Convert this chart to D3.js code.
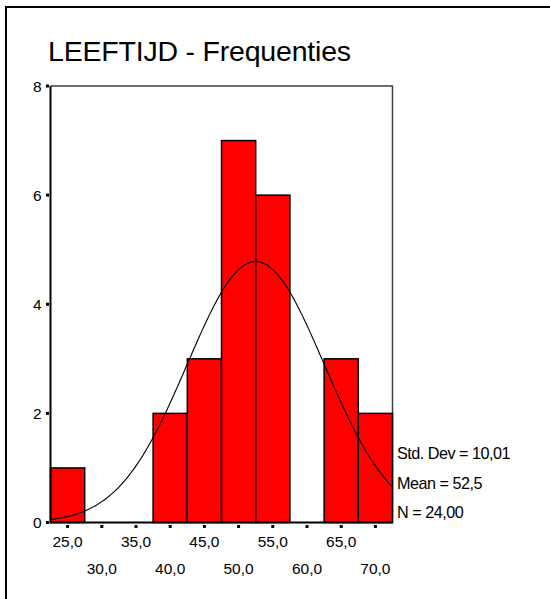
<!DOCTYPE html>
<html>
<head>
<meta charset="utf-8">
<script src="https://cdn.jsdelivr.net/npm/d3@7/dist/d3.min.js"></script>
<style>
  html, body { margin: 0; padding: 0; background: #fff; }
  svg { display: block; }
  text { font-family: "Liberation Sans", Arial, Helvetica, sans-serif; fill: #000; }
</style>
</head>
<body>
<svg id="chart" width="550" height="599"></svg>
<script>
// ---- data ----
const title = "LEEFTIJD - Frequenties";
const binCenters = [25, 30, 35, 40, 45, 50, 55, 60, 65, 70];
const counts = [1, 0, 0, 2, 3, 7, 6, 0, 3, 2];
const binWidth = 5;
const yTicks = [0, 2, 4, 6, 8];
const xTickLabels = ["25,0", "30,0", "35,0", "40,0", "45,0", "50,0", "55,0", "60,0", "65,0", "70,0"];
const statLabels = ["Std. Dev = 10,01", "Mean = 52,5", "N = 24,00"];
const stdDev = 10.01, mean = 52.5, nTotal = 24;

// ---- layout ----
const svg = d3.select("#chart");
const L = 50.5, R = 392.5, T = 86, B = 522.5;
const x = d3.scaleLinear().domain([binCenters[0] - binWidth / 2, binCenters[binCenters.length - 1] + binWidth / 2]).range([L, R]);
const y = d3.scaleLinear().domain([0, 8]).range([B, T]);

// outer frame
svg.append("rect").attr("x", 6).attr("y", 7).attr("width", 560).attr("height", 620)
  .attr("fill", "none").attr("stroke", "#000").attr("stroke-width", 2);

// title
svg.append("text").attr("x", 48).attr("y", 61).attr("font-size", 28.5).attr("letter-spacing", -0.2).text(title);

// plot frame top/right (gray)
svg.append("path").attr("d", `M${L},${T}H${R}V${B}`).attr("fill", "none").attr("stroke", "#404040").attr("stroke-width", 1.5);

// bars
svg.append("g").selectAll("rect").data(binCenters.map((c, i) => ({ c, v: counts[i] })).filter(d => d.v > 0))
  .join("rect")
  .attr("x", d => x(d.c - binWidth / 2))
  .attr("width", d => x(d.c + binWidth / 2) - x(d.c - binWidth / 2))
  .attr("y", d => y(d.v))
  .attr("height", d => y(0) - y(d.v))
  .attr("fill", "#ff0000").attr("stroke", "#000").attr("stroke-width", 1.5);

// normal curve
const peak = nTotal * binWidth / (stdDev * Math.sqrt(2 * Math.PI));
const xs = d3.range(x.domain()[0], x.domain()[1] + 0.001, 0.25);
const line = d3.line().x(d => x(d)).y(d => y(peak * Math.exp(-0.5 * ((d - mean) / stdDev) ** 2)));
svg.append("path").datum(xs).attr("d", line).attr("fill", "none").attr("stroke", "#000").attr("stroke-width", 1.1);

// axes lines
svg.append("path").attr("d", `M${L},${T}V${B}H${R + 0.5}`).attr("fill", "none").attr("stroke", "#000").attr("stroke-width", 2);

// y ticks (small squares) and labels
const yg = svg.append("g");
yg.selectAll("rect").data(yTicks).join("rect")
  .attr("x", L - 4.5).attr("y", d => y(d) - 1.5).attr("width", 3).attr("height", 3).attr("fill", "#000");
yg.selectAll("text").data(yTicks).join("text")
  .attr("x", L - 9).attr("y", d => y(d) + 5.5).attr("text-anchor", "end").attr("font-size", 15.5).text(d => d);

// x ticks
const xg = svg.append("g");
xg.selectAll("rect").data(binCenters).join("rect")
  .attr("x", d => x(d) - 1.5).attr("y", B + 2.5).attr("width", 3).attr("height", 3).attr("fill", "#000");
xg.selectAll("text").data(binCenters).join("text")
  .attr("x", d => x(d)).attr("y", (d, i) => i % 2 === 0 ? 547 : 574)
  .attr("text-anchor", "middle").attr("font-size", 15.5).text((d, i) => xTickLabels[i]);

// stats legend
svg.append("g").selectAll("text").data(statLabels).join("text")
  .attr("x", 397).attr("y", (d, i) => 459 + i * 29.5)
  .attr("font-size", 16.2).attr("letter-spacing", -0.5).text(d => d);
</script>
</body>
</html>
